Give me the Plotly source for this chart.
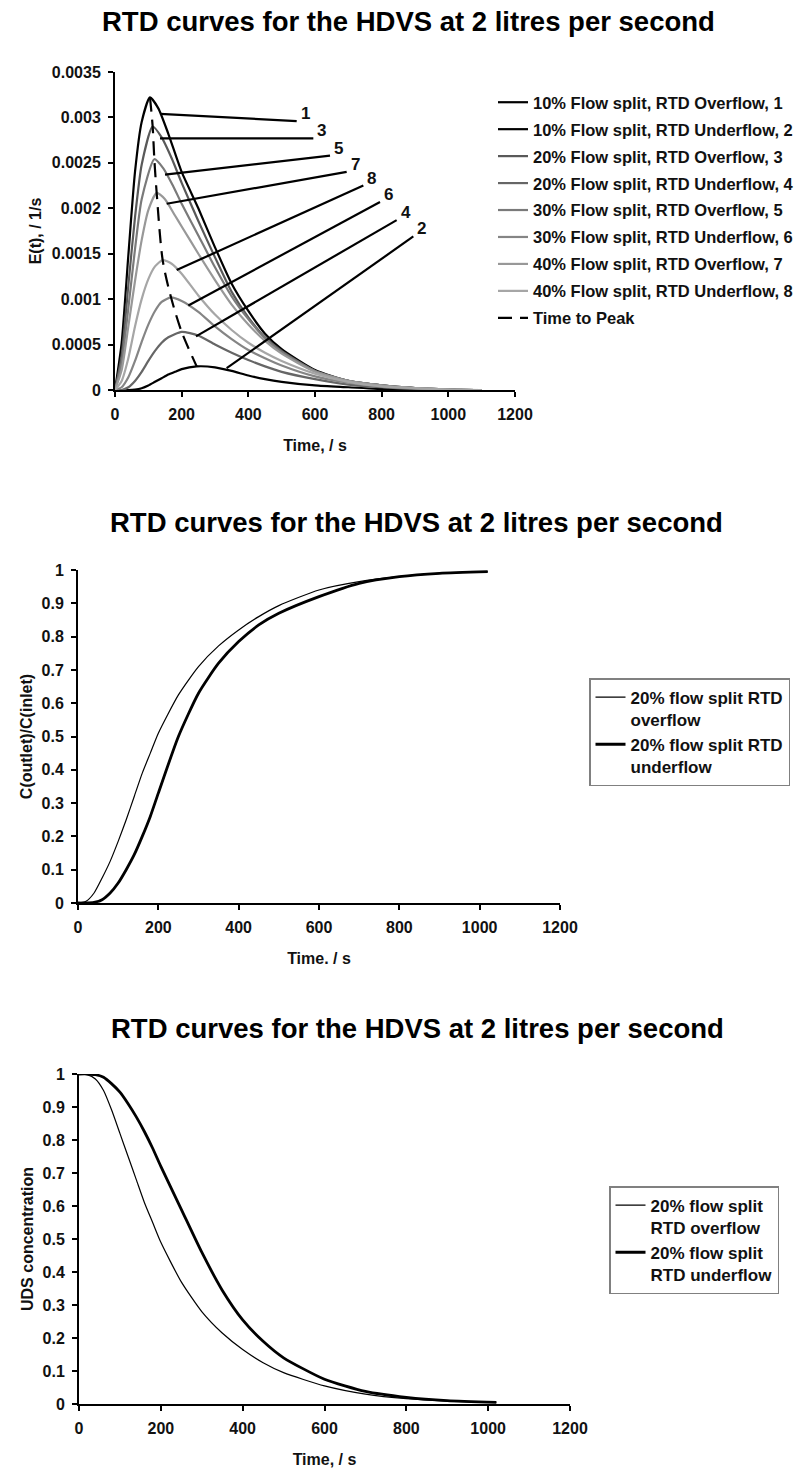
import plotly.graph_objects as go

W, H = 801, 1468
FONT = "Liberation Sans, Arial, sans-serif"

# ---------------- Chart 1: E(t) curves ----------------
names1 = ["10% Flow split, RTD Overflow, 1", "10% Flow split, RTD Underflow, 2",
          "20% Flow split, RTD Overflow, 3", "20% Flow split, RTD Underflow, 4",
          "30% Flow split, RTD Overflow, 5", "30% Flow split, RTD Underflow, 6",
          "40% Flow split, RTD Overflow, 7", "40% Flow split, RTD Underflow, 8"]
colors1 = ["#000000", "#000000", "#595959", "#666666", "#7a7a7a", "#858585", "#989898", "#a6a6a6"]

t_c1 = [0, 20, 40, 60, 80, 105, 130, 160, 200, 250, 300, 350, 400, 450, 500, 600, 700, 800, 900, 1000, 1100]
e_c1 = [0, 0.00052, 0.00148, 0.0024, 0.00295, 0.00322, 0.0031, 0.00282, 0.0024, 0.002, 0.00157, 0.00117,
        0.00087, 0.00062, 0.00045, 0.00022, 0.0001, 0.00005, 0.00002, 0.000005, 0]
t_c2 = [0, 40, 60, 80, 100, 120, 140, 160, 180, 200, 245, 300, 350, 400, 450, 500, 600, 700, 800, 900, 1000, 1100]
e_c2 = [0, 0, 0.000005, 0.00002, 0.00005, 0.00009, 0.00013, 0.00017, 0.0002, 0.00023, 0.00026, 0.00025,
        0.00021, 0.00016, 0.00012, 0.00009, 0.00005, 0.00003, 0.00001, 0.000005, 0, 0]
t_c3 = [0, 20, 40, 60, 80, 113, 140, 170, 200, 250, 300, 350, 400, 450, 500, 600, 700, 800, 900, 1000, 1100]
e_c3 = [0, 0.00038, 0.00115, 0.0019, 0.00248, 0.0029, 0.00278, 0.00255, 0.00228, 0.00186, 0.00146, 0.00108,
        0.0008, 0.00058, 0.00043, 0.00021, 0.0001, 0.00005, 0.00002, 0.000005, 0]
t_c4 = [0, 20, 40, 60, 80, 100, 120, 140, 160, 200, 250, 300, 350, 400, 450, 500, 600, 700, 800, 900, 1000, 1100]
e_c4 = [0, 0, 0.00003, 0.0001, 0.0002, 0.00032, 0.00043, 0.00052, 0.00058, 0.00064, 0.0006, 0.0005, 0.00041,
        0.00033, 0.00026, 0.0002, 0.00012, 0.00006, 0.00003, 0.00001, 0.000003, 0]
t_c5 = [0, 20, 40, 60, 80, 118, 145, 175, 200, 250, 300, 350, 400, 450, 500, 600, 700, 800, 900, 1000, 1100]
e_c5 = [0, 0.0003, 0.0009, 0.00155, 0.0021, 0.00254, 0.00244, 0.00224, 0.00205, 0.0017, 0.00135, 0.00103,
        0.00078, 0.00057, 0.00042, 0.00021, 0.0001, 0.00005, 0.00002, 0.000005, 0]
t_c6 = [0, 20, 40, 60, 80, 100, 120, 140, 168, 200, 250, 300, 350, 400, 450, 500, 600, 700, 800, 900, 1000, 1100]
e_c6 = [0, 0.00003, 0.00014, 0.00032, 0.00053, 0.00072, 0.00087, 0.00097, 0.00102, 0.00098, 0.00086, 0.0007,
        0.00056, 0.00044, 0.00035, 0.00027, 0.00015, 0.00008, 0.00004, 0.00002, 0.000005, 0]
t_c7 = [0, 20, 40, 60, 80, 100, 125, 150, 180, 200, 250, 300, 350, 400, 450, 500, 600, 700, 800, 900, 1000, 1100]
e_c7 = [0, 0.00022, 0.0007, 0.0012, 0.00165, 0.00198, 0.00217, 0.0021, 0.00192, 0.0018, 0.0015, 0.00121,
        0.00094, 0.00072, 0.00054, 0.0004, 0.0002, 0.0001, 0.00005, 0.00002, 0.000005, 0]
t_c8 = [0, 20, 40, 60, 80, 100, 120, 143, 170, 200, 250, 300, 350, 400, 450, 500, 600, 700, 800, 900, 1000, 1100]
e_c8 = [0, 0.0001, 0.00035, 0.0007, 0.001, 0.00122, 0.00136, 0.00143, 0.00139, 0.00128, 0.00104, 0.00083,
        0.00066, 0.00052, 0.00041, 0.00032, 0.00018, 0.00009, 0.00004, 0.00002, 0.000005, 0]

t_peak = [105, 113, 118, 125, 143, 168, 200, 245]
e_peak = [0.00322, 0.0029, 0.00254, 0.00217, 0.00143, 0.00102, 0.00064, 0.00026]

# leader lines (label, start on curve, end near label)
lead_labels = ["1", "3", "5", "7", "8", "6", "4", "2"]
lead_t0 = [135, 135, 150, 155, 185, 220, 243, 335]
lead_e0 = [0.00304, 0.00277, 0.00237, 0.00205, 0.00132, 0.00093, 0.00059, 0.00024]
lead_t1 = [545, 595, 645, 695, 745, 795, 845, 895]
lead_e1 = [0.00296, 0.00277, 0.00258, 0.0024, 0.00225, 0.00207, 0.00187, 0.00169]

x1_ticks = [0, 200, 400, 600, 800, 1000, 1200]
y1_ticks = [0, 0.0005, 0.001, 0.0015, 0.002, 0.0025, 0.003, 0.0035]
y1_ticktext = ["0", "0.0005", "0.001", "0.0015", "0.002", "0.0025", "0.003", "0.0035"]

# ---------------- Chart 2: F curves ----------------
t_f = [0, 20, 40, 60, 80, 100, 120, 140, 160, 180, 200, 250, 300, 350, 400, 450, 500, 600, 700, 800, 900, 1020]
f_over = [0, 0.005, 0.03, 0.075, 0.125, 0.185, 0.25, 0.32, 0.39, 0.45, 0.51, 0.625, 0.71, 0.772, 0.82, 0.86,
          0.893, 0.94, 0.965, 0.98, 0.99, 0.995]
f_under = [0, 0, 0.002, 0.01, 0.03, 0.06, 0.1, 0.145, 0.2, 0.26, 0.33, 0.5, 0.63, 0.72, 0.785, 0.835, 0.87,
           0.92, 0.96, 0.98, 0.99, 0.995]

# ---------------- Chart 3: UDS concentration ----------------
t_u = [0, 20, 40, 60, 80, 100, 120, 140, 160, 180, 200, 250, 300, 350, 400, 450, 500, 600, 700, 800, 900, 1020]
u_over = [1, 0.998, 0.985, 0.95, 0.89, 0.82, 0.75, 0.68, 0.61, 0.55, 0.49, 0.37, 0.28, 0.215, 0.165, 0.125,
          0.095, 0.055, 0.03, 0.016, 0.009, 0.005]
u_under = [1, 1, 0.998, 0.99, 0.97, 0.945, 0.91, 0.87, 0.825, 0.775, 0.72, 0.59, 0.46, 0.345, 0.255, 0.19,
           0.14, 0.075, 0.038, 0.02, 0.01, 0.005]

x_ticks = [0, 200, 400, 600, 800, 1000, 1200]
y_ticks01 = [0, 0.1, 0.2, 0.3, 0.4, 0.5, 0.6, 0.7, 0.8, 0.9, 1]
y_ticktext01 = ["0", "0.1", "0.2", "0.3", "0.4", "0.5", "0.6", "0.7", "0.8", "0.9", "1"]

title_text = "RTD curves for the HDVS at 2 litres per second"

fig = go.Figure()

curves = [(t_c1, e_c1), (t_c2, e_c2), (t_c3, e_c3), (t_c4, e_c4),
          (t_c5, e_c5), (t_c6, e_c6), (t_c7, e_c7), (t_c8, e_c8)]
for i in range(8):
    tt, ee = curves[i]
    fig.add_trace(go.Scatter(x=tt, y=ee, mode="lines", name=names1[i],
                             line=dict(color=colors1[i], width=2.2, shape="spline", smoothing=0.6),
                             legend="legend", legendgroup="g%d" % i, xaxis="x", yaxis="y"))
fig.add_trace(go.Scatter(x=t_peak, y=e_peak, mode="lines", name="Time to Peak",
                         line=dict(color="#000000", width=2.2, dash="14px,8px", shape="spline", smoothing=0.8),
                         legend="legend", legendgroup="g9", xaxis="x", yaxis="y"))

fig.add_trace(go.Scatter(x=t_f, y=f_over, mode="lines", name="20% flow split RTD<br>overflow",
                         line=dict(color="#000000", width=1.2, shape="spline", smoothing=0.6),
                         legend="legend2", xaxis="x2", yaxis="y2"))
fig.add_trace(go.Scatter(x=t_f, y=f_under, mode="lines", name="20% flow split RTD<br>underflow",
                         line=dict(color="#000000", width=2.8, shape="spline", smoothing=0.6),
                         legend="legend2", xaxis="x2", yaxis="y2"))

fig.add_trace(go.Scatter(x=t_u, y=u_over, mode="lines", name="20% flow split<br>RTD overflow",
                         line=dict(color="#000000", width=1.2, shape="spline", smoothing=0.6),
                         legend="legend3", xaxis="x3", yaxis="y3"))
fig.add_trace(go.Scatter(x=t_u, y=u_under, mode="lines", name="20% flow split<br>RTD underflow",
                         line=dict(color="#000000", width=2.8, shape="spline", smoothing=0.6),
                         legend="legend3", xaxis="x3", yaxis="y3"))

shapes = []
annotations = []
for lab, a0, b0, a1, b1 in zip(lead_labels, lead_t0, lead_e0, lead_t1, lead_e1):
    shapes.append(dict(type="line", xref="x", yref="y", x0=a0, y0=b0, x1=a1, y1=b1,
                       line=dict(color="#000000", width=2.2)))
    annotations.append(dict(text=lab, xref="x", yref="y", x=a1, y=b1, xanchor="left", yanchor="bottom",
                            xshift=2, yshift=-4, showarrow=False,
                            font=dict(size=17, color="#111111", family=FONT)))

for ypix, xpix in [(22, 408), (522, 416), (1028, 417)]:
    annotations.append(dict(text="<b>" + title_text + "</b>", xref="paper", yref="paper",
                            x=xpix / W, y=1 - ypix / H, xanchor="center", yanchor="middle",
                            showarrow=False, font=dict(size=27.5, color="#000000", family=FONT)))

axis_common = dict(showline=True, linecolor="#000000", linewidth=2, ticks="outside", ticklen=5,
                   tickwidth=2, tickcolor="#000000", showgrid=False, zeroline=False,
                   ticklabelstandoff=4,
                   tickfont=dict(size=16, color="#111111", family=FONT),
                   title_font=dict(size=16, color="#111111", family=FONT))


def dom_x(a, b):
    return [a / W, b / W]


def dom_y(top, bottom):
    return [1 - bottom / H, 1 - top / H]


fig.update_layout(
    width=W, height=H,
    margin=dict(l=0, r=0, t=0, b=0, autoexpand=False),
    paper_bgcolor="#ffffff", plot_bgcolor="#ffffff",
    font=dict(family=FONT, color="#111111", weight="bold"),
    shapes=shapes, annotations=annotations,
    xaxis=dict(domain=dom_x(115, 515), range=[0, 1200], tickvals=x1_ticks, anchor="y",
               title=dict(text="Time, / s", standoff=18), **axis_common),
    yaxis=dict(domain=dom_y(72, 390), range=[0, 0.0035], tickvals=y1_ticks, ticktext=y1_ticktext,
               anchor="x", title=dict(text="E(t), / 1/s", standoff=6), **axis_common),
    xaxis2=dict(domain=dom_x(78, 560), range=[0, 1200], tickvals=x_ticks, anchor="y2",
                title=dict(text="Time. / s", standoff=18), **axis_common),
    yaxis2=dict(domain=dom_y(570, 903), range=[0, 1], tickvals=y_ticks01, ticktext=y_ticktext01,
                anchor="x2", title=dict(text="C(outlet)/C(inlet)", standoff=5), **axis_common),
    xaxis3=dict(domain=dom_x(79, 570), range=[0, 1200], tickvals=x_ticks, anchor="y3",
                title=dict(text="Time, / s", standoff=18), **axis_common),
    yaxis3=dict(domain=dom_y(1074, 1404), range=[0, 1], tickvals=y_ticks01, ticktext=y_ticktext01,
                anchor="x3", title=dict(text="UDS concentration", standoff=5), **axis_common),
    legend=dict(x=493 / W, y=1 - 85 / H, xanchor="left", yanchor="top", traceorder="grouped",
                tracegroupgap=2.5, bgcolor="rgba(0,0,0,0)", borderwidth=0,
                font=dict(size=16.5, color="#111111", family=FONT)),
    legend2=dict(x=589 / W, y=1 - 678 / H, xanchor="left", yanchor="top", valign="top",
                 bgcolor="#ffffff", bordercolor="#808080", borderwidth=1.5, tracegroupgap=4,
                 font=dict(size=17, color="#111111", family=FONT)),
    legend3=dict(x=609 / W, y=1 - 1186 / H, xanchor="left", yanchor="top", valign="top",
                 bgcolor="#ffffff", bordercolor="#808080", borderwidth=1.5, tracegroupgap=4,
                 font=dict(size=17, color="#111111", family=FONT)),
)

fig.write_html("out.html")
